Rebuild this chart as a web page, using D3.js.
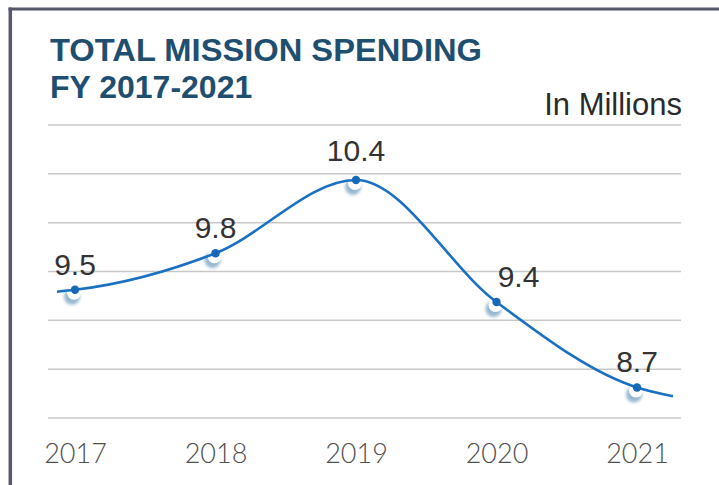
<!DOCTYPE html>
<html>
<head>
<meta charset="utf-8">
<script src="https://cdn.jsdelivr.net/npm/d3@7"></script>
<style>
  html, body { margin: 0; padding: 0; background: #ffffff; }
  svg { display: block; }
</style>
</head>
<body>
<svg id="chart" width="719" height="485"></svg>
<script>
// ---- data ----
const years = ["2017", "2018", "2019", "2020", "2021"];
const spending = [9.5, 9.8, 10.4, 9.4, 8.7];
const valueLabels = ["9.5", "9.8", "10.4", "9.4", "8.7"];
const titleLines = ["TOTAL MISSION SPENDING", "FY 2017-2021"];
const unitLabel = "In Millions";

// ---- layout ----
const W = 719, H = 485;
const svg = d3.select("#chart");
const defs = svg.append("defs");
defs.append("filter").attr("id", "soft").attr("x", "-50%").attr("y", "-50%").attr("width", "200%").attr("height", "200%")
  .append("feGaussianBlur").attr("stdDeviation", 1.6);

// frame
svg.append("line").attr("x1", 8.5).attr("x2", W).attr("y1", 9).attr("y2", 9)
  .attr("stroke", "#57576c").attr("stroke-width", 3);
svg.append("line").attr("x1", 10.3).attr("x2", 10.3).attr("y1", 7.5).attr("y2", H)
  .attr("stroke", "#57576c").attr("stroke-width", 3.5);

// scales
const x = d3.scalePoint().domain(years).range([75, 637]).padding(0);
const yDomain = [8.45, 10.85];
const y = d3.scaleLinear().domain(yDomain).range([418, 125]);

// gridlines
const gridStep = 0.4;
const gridVals = d3.range(yDomain[0], yDomain[1] + gridStep / 2, gridStep);
svg.append("g").selectAll("line").data(gridVals).join("line")
  .attr("x1", 48).attr("x2", 681)
  .attr("y1", d => y(d)).attr("y2", d => y(d))
  .attr("stroke", "#c8c8c8").attr("stroke-width", 1.5);

// title
const title = svg.append("g").attr("fill", "#1e4f70")
  .style("font-family", "'Liberation Sans', Arial, sans-serif")
  .style("font-weight", "bold").style("font-size", "32px");
title.append("text").attr("x", 50).attr("y", 61).attr("textLength", 432)
  .attr("lengthAdjust", "spacingAndGlyphs").text(titleLines[0]);
title.append("text").attr("x", 50).attr("y", 98).text(titleLines[1]);

svg.append("text").attr("x", 682).attr("y", 115).attr("text-anchor", "end")
  .attr("fill", "#2a2a2a")
  .style("font-family", "'Liberation Sans', Arial, sans-serif").style("font-size", "31px")
  .text(unitLabel);

// line (with short tangent run-outs at both ends)
const pts = years.map((yr, i) => [x(yr), y(spending[i])]);
const n = pts.length;
const s0 = (pts[1][1] - pts[0][1]) / (pts[1][0] - pts[0][0]);
const s1 = (pts[n - 1][1] - pts[n - 2][1]) / (pts[n - 1][0] - pts[n - 2][0]);
const leftExt = [pts[0][0] - 18, pts[0][1] - s0 * 0.4 * 18];
const rightExt = [pts[n - 1][0] + 36, pts[n - 1][1] + s1 * 0.4 * 36];
const linePts = [leftExt, ...pts, rightExt];

// marker shadows (beneath the line)
const mk = svg.append("g");
mk.selectAll("circle.sh").data(pts).join("circle").attr("class", "sh")
  .attr("cx", d => d[0] - 3).attr("cy", d => d[1] + 7).attr("r", 8)
  .attr("fill", "#7fa8c6").attr("opacity", 0.8).attr("filter", "url(#soft)");
mk.selectAll("circle.wh").data(pts).join("circle").attr("class", "wh")
  .attr("cx", d => d[0] - 1).attr("cy", d => d[1] + 3).attr("r", 7)
  .attr("fill", "#ffffff");

svg.append("path")
  .attr("d", d3.line().curve(d3.curveMonotoneX)(linePts))
  .attr("fill", "none").attr("stroke", "#1a70c2").attr("stroke-width", 2.6);

svg.append("g").selectAll("circle").data(pts).join("circle")
  .attr("cx", d => d[0]).attr("cy", d => d[1]).attr("r", 4.2)
  .attr("fill", "#1868b8");

// value labels
const labelDx = { "2020": 22 };
const labelDy = { "2019": -19 };
svg.append("g").selectAll("text").data(years).join("text")
  .attr("x", yr => x(yr) + (labelDx[yr] || 0))
  .attr("y", (yr, i) => y(spending[i]) + (labelDy[yr] || -15))
  .attr("text-anchor", "middle")
  .attr("fill", "#333333")
  .style("font-family", "'Liberation Sans', Arial, sans-serif").style("font-size", "30px")
  .text((yr, i) => valueLabels[i]);

// x axis labels
const xAxis = d3.axisBottom(x).tickSize(0).tickPadding(0);
const gx = svg.append("g").attr("transform", "translate(0,442)").call(xAxis);
gx.select(".domain").remove();
gx.selectAll("text")
  .attr("dy", 0).attr("y", 21)
  .attr("fill", "#505050")
  .style("font-family", "Lato, 'Open Sans', sans-serif").style("font-size", "27px").style("font-weight", "300");
</script>
</body>
</html>
